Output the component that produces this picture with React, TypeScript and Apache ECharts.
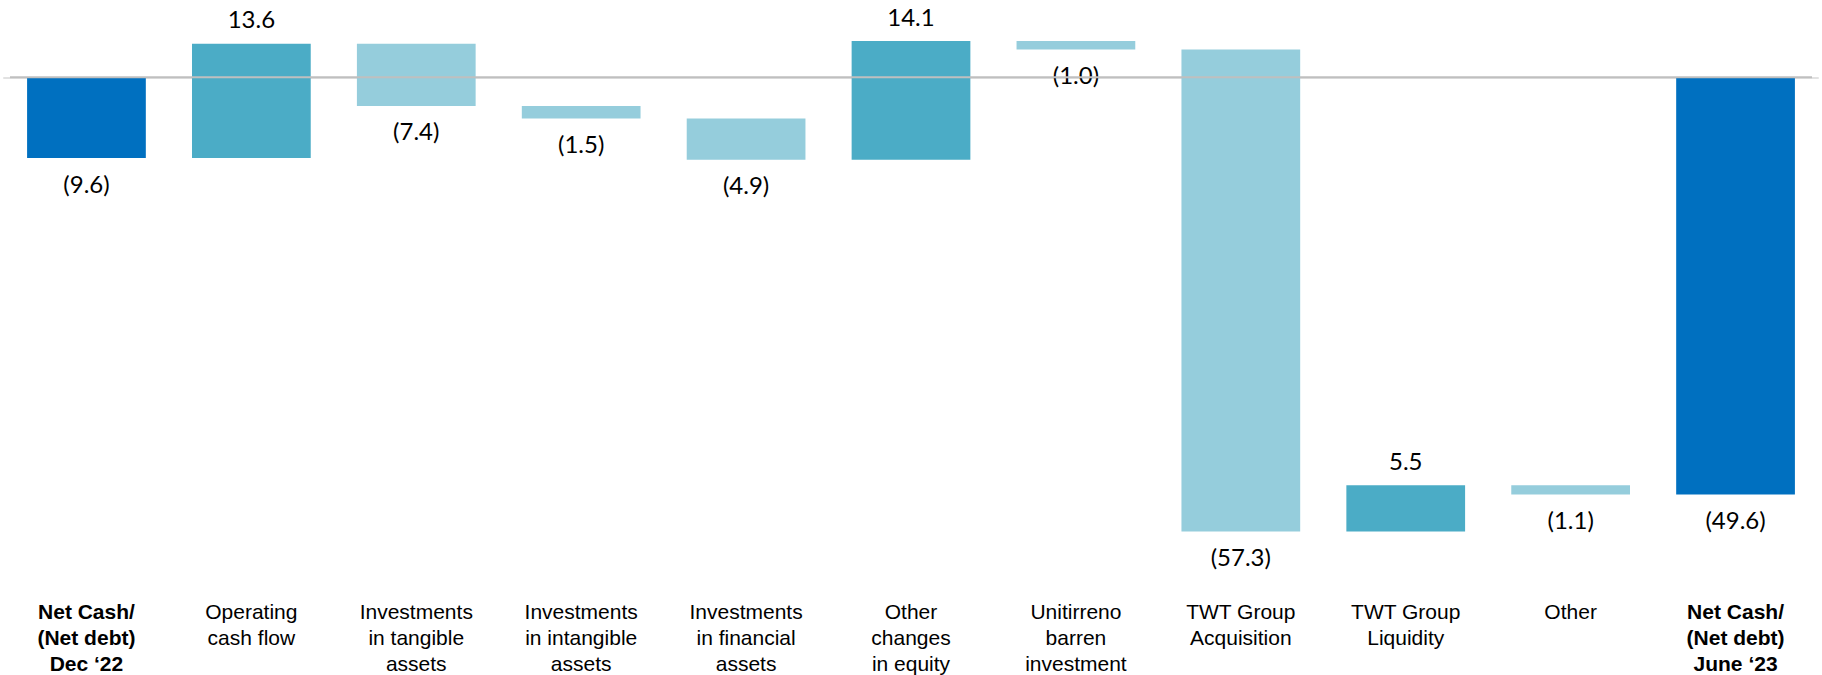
import React, { useEffect, useRef } from "react";
import * as echarts from "echarts";

const categories = [
  "Net Cash/\n(Net debt)\nDec ‘22",
  "Operating\ncash flow",
  "Investments\nin tangible\nassets",
  "Investments\nin intangible\nassets",
  "Investments\nin financial\nassets",
  "Other\nchanges\nin equity",
  "Unitirreno\nbarren\ninvestment",
  "TWT Group\nAcquisition",
  "TWT Group\nLiquidity",
  "Other",
  "Net Cash/\n(Net debt)\nJune ‘23",
];
const values = [-9.6, 13.6, -7.4, -1.5, -4.9, 14.1, -1.0, -57.3, 5.5, -1.1, -49.6];
const isTotal = [true, false, false, false, false, false, false, false, false, false, true];

const COLOR_TOTAL = "#0070C0";
const COLOR_UP = "#4BACC6";
const COLOR_DOWN = "#95CDDC";

function fmt(v: number) {
  return v < 0 ? `(${Math.abs(v).toFixed(1)})` : v.toFixed(1);
}

export default function App() {
  const ref = useRef<HTMLDivElement>(null);
  useEffect(() => {
    if (!ref.current) return;
    const chart = echarts.init(ref.current, null, { renderer: "svg" });
    const rows: number[][] = [];
    let run = 0;
    values.forEach((v, i) => {
      let low: number, high: number;
      if (isTotal[i]) {
        low = Math.min(0, v);
        high = Math.max(0, v);
        run = v;
      } else {
        const next = run + v;
        low = Math.min(run, next);
        high = Math.max(run, next);
        run = next;
      }
      rows.push([i, low, high, v, isTotal[i] ? 1 : 0]);
    });
    chart.setOption({
      animation: false,
      grid: {
        left: 4,
        right: 4,
        top: 10,
        bottom: 93,
        containLabel: false,
        outerBoundsMode: "none",
      },
      xAxis: {
        type: "category",
        data: categories.map((c, i) =>
          isTotal[i] ? { value: c, textStyle: { fontWeight: "bold" } } : c
        ),
        axisLine: { lineStyle: { color: "#e2e2e2", width: 2 } },
        axisTick: { show: false },
        axisLabel: {
          interval: 0,
          fontSize: 21,
          lineHeight: 26,
          color: "#000",
          fontFamily: "Liberation Sans, Arial, sans-serif",
          margin: 16,
        },
      },
      yAxis: {
        type: "value",
        min: -60,
        max: 8,
        show: false,
        splitLine: { show: false },
      },
      series: [
        {
          type: "custom",
          data: rows,
          encode: { x: 0, y: [1, 2] },
          renderItem: (params: any, api: any) => {
            const i = api.value(0);
            const low = api.value(1);
            const high = api.value(2);
            const v = api.value(3);
            const tot = api.value(4) === 1;
            const pTop = api.coord([i, high]);
            const pBot = api.coord([i, low]);
            const w = api.size([1, 0])[0] * 0.72;
            const color = tot ? COLOR_TOTAL : v >= 0 ? COLOR_UP : COLOR_DOWN;
            const above = v >= 0;
            return {
              type: "group",
              children: [
                {
                  type: "rect",
                  shape: {
                    x: pTop[0] - w / 2,
                    y: pTop[1],
                    width: w,
                    height: pBot[1] - pTop[1],
                  },
                  style: { fill: color },
                },
                {
                  type: "text",
                  x: pTop[0],
                  y: above ? pTop[1] - 13 : pBot[1] + 13,
                  style: {
                    text: fmt(v),
                    fill: "#000",
                    fontSize: 24,
                    fontFamily: "Lato, 'Open Sans', sans-serif",
                    textAlign: "center",
                    textVerticalAlign: above ? "bottom" : "top",
                  },
                },
              ],
            };
          },
        },
        {
          type: "custom",
          data: [[0, 0]],
          z: 10,
          silent: true,
          renderItem: (params: any, api: any) => {
            const cs = params.coordSys;
            const y = api.coord([0, 0])[1];
            return {
              type: "line",
              shape: { x1: cs.x + 6, y1: y, x2: cs.x + cs.width - 6, y2: y },
              style: { stroke: "#bfbfbf", lineWidth: 2 },
            };
          },
        },
      ],
    });
    return () => chart.dispose();
  }, []);
  return (
    <div
      ref={ref}
      style={{ position: "absolute", left: 0, top: 0, width: 1822, height: 675, background: "#fff" }}
    />
  );
}
